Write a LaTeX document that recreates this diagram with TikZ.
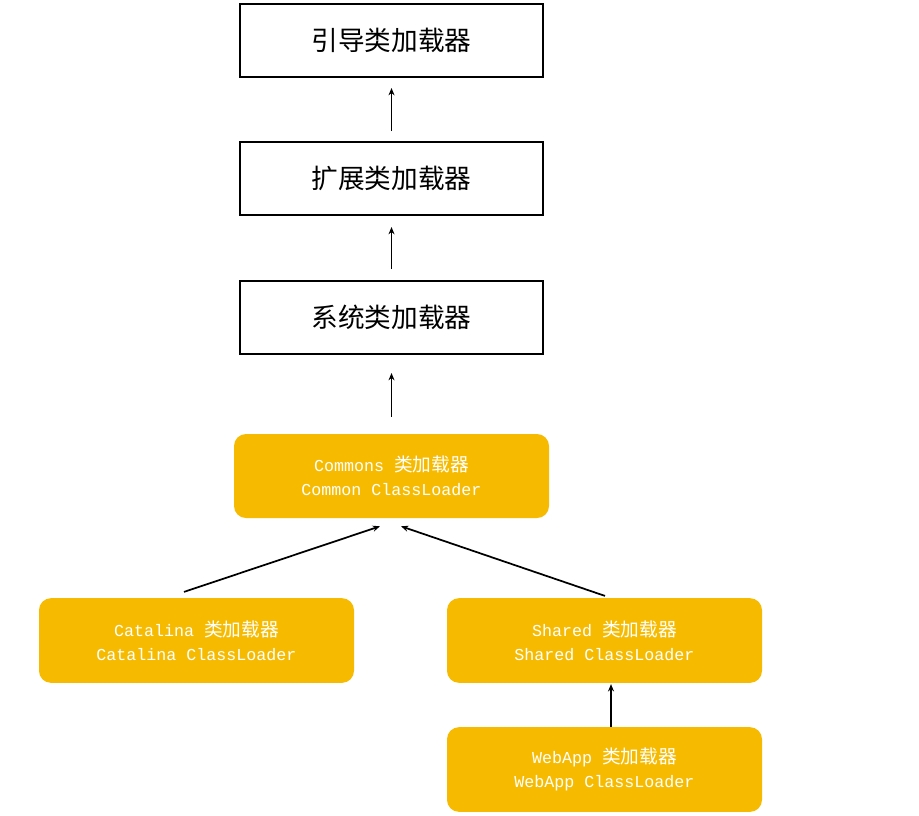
\documentclass[tikz,border=0pt]{standalone}
\usepackage{fontspec}
\setmainfont{Liberation Serif}
\newfontfamily\cjk{Noto Sans CJK SC}
\newfontfamily\monof{Liberation Mono}
\usetikzlibrary{arrows.meta,calc}
\definecolor{ybox}{HTML}{F6BB00}
\tikzset{
  plain/.style={draw=black,line width=1.5pt,minimum width=227.25pt,minimum height=54.75pt,inner sep=0pt,font=\cjk\fontsize{20pt}{24pt}\selectfont},
  ybx/.style={fill=ybox,rounded corners=9pt,minimum width=236.25pt,minimum height=63.5pt,inner sep=0pt,text=white,align=center,font=\monof\fontsize{12.5pt}{18pt}\selectfont},
  arr/.style={line width=1.3pt,-{Stealth[length=5.5pt,width=4.5pt]}}
}
\newcommand{\zh}[1]{{\cjk\fontsize{14pt}{18pt}\selectfont #1}}
\begin{document}
\begin{tikzpicture}[x=0.75pt,y=-0.75pt]
\useasboundingbox (0,0) rectangle (919,815);
\node[plain] (b1) at (391.5,40.5) {引导类加载器};
\node[plain] (b2) at (391.5,178.5) {扩展类加载器};
\node[plain] (b3) at (391.5,317.5) {系统类加载器};
\node[ybx,minimum height=63pt] (com) at (391.5,476) {Commons \zh{类加载器}\\Common ClassLoader};
\node[ybx] (cat) at (196.5,640.5) {Catalina \zh{类加载器}\\Catalina ClassLoader};
\node[ybx] (sha) at (604.5,640.5) {Shared \zh{类加载器}\\Shared ClassLoader};
\node[ybx] (web) at (604.5,769.5) {WebApp \zh{类加载器}\\WebApp ClassLoader};
\coordinate (t1) at ($(b2.north)+(0,-10)$);
\coordinate (h1) at ($(b1.south)+(0,10)$);
\coordinate (t2) at ($(b3.north)+(0,-11)$);
\coordinate (h2) at ($(b2.south)+(0,11)$);
\coordinate (t3) at ($(com.north)+(0,-17)$);
\coordinate (h3) at ($(b3.south)+(0,18)$);
\coordinate (t4) at ($(cat.north)+(-12.5,-6)$);
\coordinate (h4) at ($(com.south)+(-11.5,8)$);
\coordinate (t5) at ($(sha.north)+(0.5,-2)$);
\coordinate (h5) at ($(com.south)+(9.5,8)$);
\coordinate (t6) at ($(web.north)+(6.5,0)$);
\coordinate (h6) at ($(sha.south)+(6.5,1)$);
\draw[arr] (t1) -- (h1);
\draw[arr] (t2) -- (h2);
\draw[arr] (t3) -- (h3);
\draw[arr] (t4) -- (h4);
\draw[arr] (t5) -- (h5);
\draw[arr] (t6) -- (h6);
\end{tikzpicture}
\end{document}
